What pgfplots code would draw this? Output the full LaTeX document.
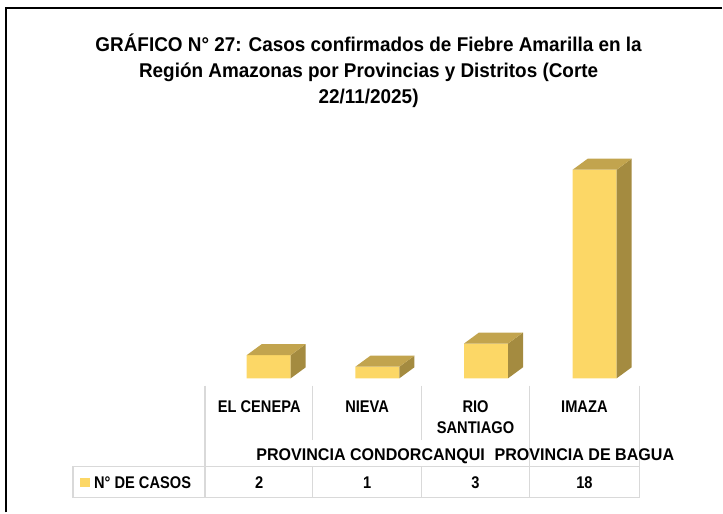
\documentclass[border=0pt]{standalone}
\usepackage{fontspec}
\setmainfont{Liberation Sans}[FakeStretch=0.95]
\newfontfamily\narrowfont{Liberation Sans}[FakeStretch=0.865]
\usepackage{pgfplots}
\pgfplotsset{compat=1.18}
\definecolor{barfront}{HTML}{FCD766}
\definecolor{bartop}{HTML}{C2A44E}
\definecolor{barside}{HTML}{A48B40}
\definecolor{gridgray}{HTML}{D9D9D9}

% N° de casos por distrito (0 El Cenepa, 1 Nieva, 2 Rio Santiago, 3 Imaza)
\pgfplotstableread{
x casos
0 2
1 1
2 3
3 18
}\casos

\begin{document}
\begin{tikzpicture}
\begin{axis}[
    scale only axis,
    width=723bp, height=513bp,
    at={(0,0)}, anchor=south west,
    hide axis,
    xmin=-2.385, xmax=4.263,
    ymin=-11.578, ymax=32.647,
]
% caras frontales
\addplot[ybar, bar width=0.405, bar shift=0.0885, fill=barfront, draw=none] table[x=x, y=casos] {\casos};
% caras laterales
\addplot[fill=barside, draw=none] coordinates {(0.291,0) (0.429,0.95) (0.429,2.95) (0.291,2)} -- cycle;
\addplot[fill=barside, draw=none] coordinates {(1.291,0) (1.429,0.95) (1.429,1.95) (1.291,1)} -- cycle;
\addplot[fill=barside, draw=none] coordinates {(2.291,0) (2.429,0.95) (2.429,3.95) (2.291,3)} -- cycle;
\addplot[fill=barside, draw=none] coordinates {(3.291,0) (3.429,0.95) (3.429,18.95) (3.291,18)} -- cycle;
% caras superiores
\addplot[fill=bartop, draw=none] coordinates {(-0.114,2) (0.024,2.95) (0.429,2.95) (0.291,2)} -- cycle;
\addplot[fill=bartop, draw=none] coordinates {(0.886,1) (1.024,1.95) (1.429,1.95) (1.291,1)} -- cycle;
\addplot[fill=bartop, draw=none] coordinates {(1.886,3) (2.024,3.95) (2.429,3.95) (2.291,3)} -- cycle;
\addplot[fill=bartop, draw=none] coordinates {(2.886,18) (3.024,18.95) (3.429,18.95) (3.291,18)} -- cycle;
\end{axis}
\path (0,0) rectangle (723bp,513bp);
\begin{scope}[x=1bp, y=-1bp, shift={(0,513bp)}]
  % marco
  \draw[line width=1.5bp] (6,513) -- (6,8) -- (723,8);
  % titulo
  \node[align=center, font=\fontsize{20}{26}\selectfont\bfseries] at (369,71)
    {GRÁFICO N° 27: Casos confirmados de Fiebre Amarilla en la\\Región Amazonas por Provincias y Distritos (Corte\\22/11/2025)};
  % tabla de datos
  \begin{scope}[gridgray, line width=1.6bp]
    \draw (205,386) -- (205,498);
    \draw (313,386) -- (313,440);
    \draw (422,386) -- (422,440);
    \draw (530,386) -- (530,467);
    \draw (640,386) -- (640,498);
    \draw (73,467) rectangle (640,498);
    \draw (313,467) -- (313,498);
    \draw (422,467) -- (422,498);
    \draw (530,467) -- (530,498);
  \end{scope}
  \begin{scope}[font=\narrowfont\fontsize{17}{21}\selectfont\bfseries, every node/.style={anchor=base}]
    \node at (259.5,413) {EL CENEPA};
    \node at (367.5,413) {NIEVA};
    \node at (476,413) {RIO};
    \node at (476,434) {SANTIAGO};
    \node at (585,413) {IMAZA};
    \node[font=\fontsize{17}{21}\selectfont\bfseries] at (371,461) {PROVINCIA CONDORCANQUI};
    \node[font=\fontsize{17}{21}\selectfont\bfseries] at (585,461) {PROVINCIA DE BAGUA};
    \fill[barfront] (80,478) rectangle (90,488);
    \node[anchor=base west, inner sep=0pt] at (94,489) {N° DE CASOS};
    \node at (259.5,489) {2};
    \node at (367.5,489) {1};
    \node at (476,489) {3};
    \node at (585,489) {18};
  \end{scope}
\end{scope}
\end{tikzpicture}
\end{document}
